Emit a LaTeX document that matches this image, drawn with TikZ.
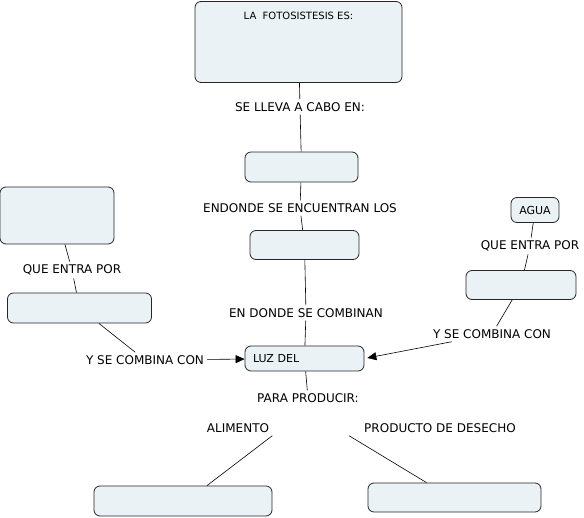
\documentclass[tikz,border=0pt]{standalone}
\usepackage{fontspec}
\setmainfont{DejaVu Sans}
\usetikzlibrary{arrows.meta}
\definecolor{fondo}{RGB}{234,242,245}
\begin{document}
\begin{tikzpicture}[x=1pt, y=-1pt,
    concepto/.style={draw=black!85, fill=fondo, rounded corners=6pt, line width=0.8pt, inner sep=0pt, font=\fontsize{11}{13}\selectfont},
    enlace/.style={inner sep=3pt, font=\fontsize{12}{14}\selectfont},
    >={Triangle[length=9pt, width=8pt]}]
    \useasboundingbox (0,0) rectangle (584,518);

    % Definición de conceptos
    \node[concepto, minimum width=207pt, minimum height=81pt,
          label={[anchor=north, inner sep=0pt, yshift=-11pt, font=\fontsize{10}{12}\selectfont]north:LA\ \ FOTOSISTESIS ES:}] (fotosintesis) at (298.5,42) {};
    \node[concepto, minimum width=113pt, minimum height=30pt] (lugar) at (301.5,167) {};
    \node[concepto, minimum width=109pt, minimum height=29pt] (organulos) at (304.5,245) {};
    \node[concepto, minimum width=119pt, minimum height=25pt, text width=103pt, align=left] (luz) at (304.5,358.5) {LUZ DEL};
    \node[concepto, minimum width=114pt, minimum height=57pt] (gas) at (57,215.5) {};
    \node[concepto, minimum width=144pt, minimum height=30pt] (hojas) at (79.5,308) {};
    \node[concepto, minimum width=48pt, minimum height=25pt] (agua) at (535,210) {AGUA};
    \node[concepto, minimum width=110pt, minimum height=29pt] (raices) at (521,285) {};
    \node[concepto, minimum width=178pt, minimum height=30pt] (alimento) at (183,501) {};
    \node[concepto, minimum width=173pt, minimum height=29pt] (desecho) at (454.5,497.5) {};

    % Palabras de enlace
    \node[enlace] (lleva) at (300,107) {SE LLEVA A CABO EN:};
    \node[enlace] (encuentran) at (300,208) {ENDONDE SE ENCUENTRAN LOS};
    \node[enlace] (combinan) at (306,313) {EN DONDE SE COMBINAN};
    \node[enlace] (entraI) at (72,270) {QUE ENTRA POR};
    \node[enlace] (combinaI) at (145,360) {Y SE COMBINA CON};
    \node[enlace] (entraD) at (530,246) {QUE ENTRA POR};
    \node[enlace] (combinaD) at (492,334) {Y SE COMBINA CON};
    \node[enlace] (producir) at (308,398) {PARA PRODUCIR:};
    \node[enlace] (alim) at (238,428) {ALIMENTO};
    \node[enlace] (prod) at (440,428) {PRODUCTO DE DESECHO};

    % Conexiones
    \draw[line width=0.6pt] (fotosintesis) -- (lleva);
    \draw[line width=0.6pt] (lleva) -- (lugar);
    \draw[line width=0.6pt] (lugar) -- (encuentran);
    \draw[line width=0.6pt] (encuentran) -- (organulos);
    \draw[line width=0.6pt] (organulos) -- (combinan);
    \draw[line width=0.6pt] (combinan) -- (luz);
    \draw[line width=0.6pt] (luz) -- (producir);
    \draw[line width=0.6pt] (gas) -- (entraI);
    \draw[line width=0.6pt] (entraI) -- (hojas);
    \draw[line width=0.6pt] (hojas) -- (combinaI);
    \draw[->, line width=0.6pt] (combinaI) -- (luz);
    \draw[line width=0.6pt] (agua) -- (entraD);
    \draw[line width=0.6pt] (entraD) -- (raices);
    \draw[line width=0.6pt] (raices) -- (combinaD);
    \draw[->, line width=0.6pt, shorten >=3pt] (combinaD) -- (luz.east);
    \draw[line width=0.6pt] (alim.south east) -- ([xshift=24pt]alimento.north);
    \draw[line width=0.6pt] ([xshift=-12pt]prod.south west) -- ([xshift=-28pt]desecho.north);
\end{tikzpicture}
\end{document}
